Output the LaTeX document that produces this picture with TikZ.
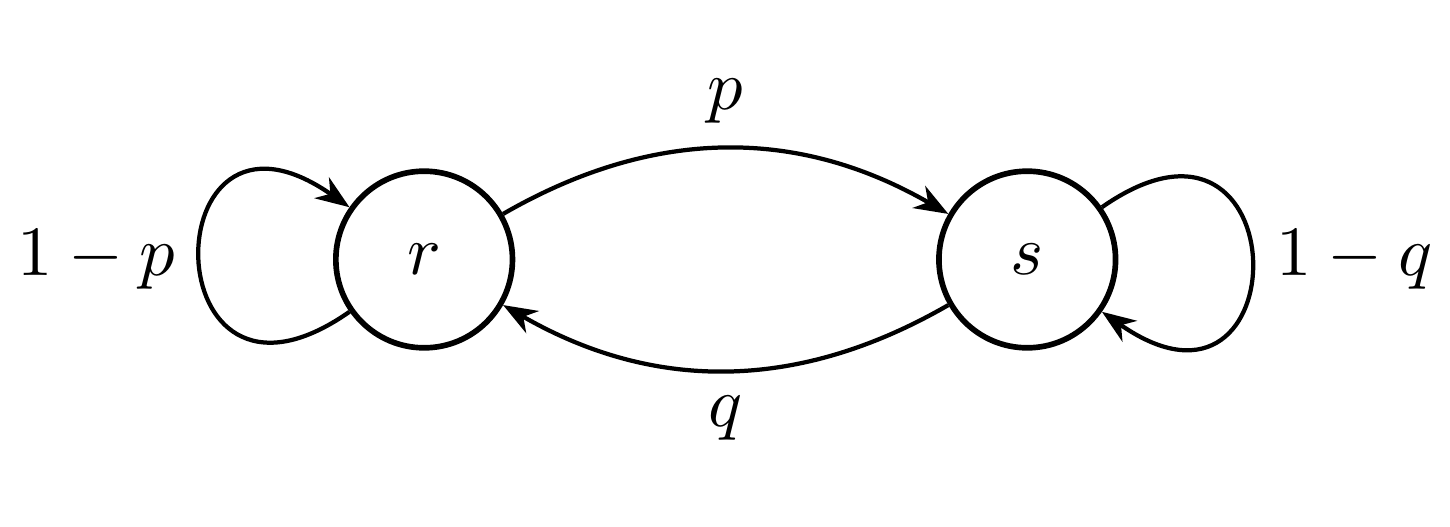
\documentclass[tikz,border=0pt]{standalone}
\usetikzlibrary{arrows.meta}
\begin{document}
\begin{tikzpicture}[x=1cm,y=1cm,
  st/.style={draw, circle, minimum size=25pt, inner sep=0pt, line width=0.8pt},
  arr/.style={-{Stealth[length=4.8pt, width=3.6pt, inset=1.5pt]}, line width=0.6pt},
  lab/.style={inner sep=3.33pt}
]
\useasboundingbox (-2.110,-1.326) rectangle (5.103,1.291);
\node[st] (r) at (0,0) {$r$};
\node[st] (s) at (3,0) {$s$};
\draw[arr] (r) to[bend left=30] node[lab, above] {$p$} (s);
\draw[arr] (s) to[bend left=30] node[lab, below] {$q$} (r);
\draw[arr] (r) to[out=215, in=145, looseness=5.95] node[lab, left] {$1-p$} (r);
\draw[arr] (s) to[out=35, in=325, looseness=5.95] node[lab, right] {$1-q$} (s);
\end{tikzpicture}
\end{document}
